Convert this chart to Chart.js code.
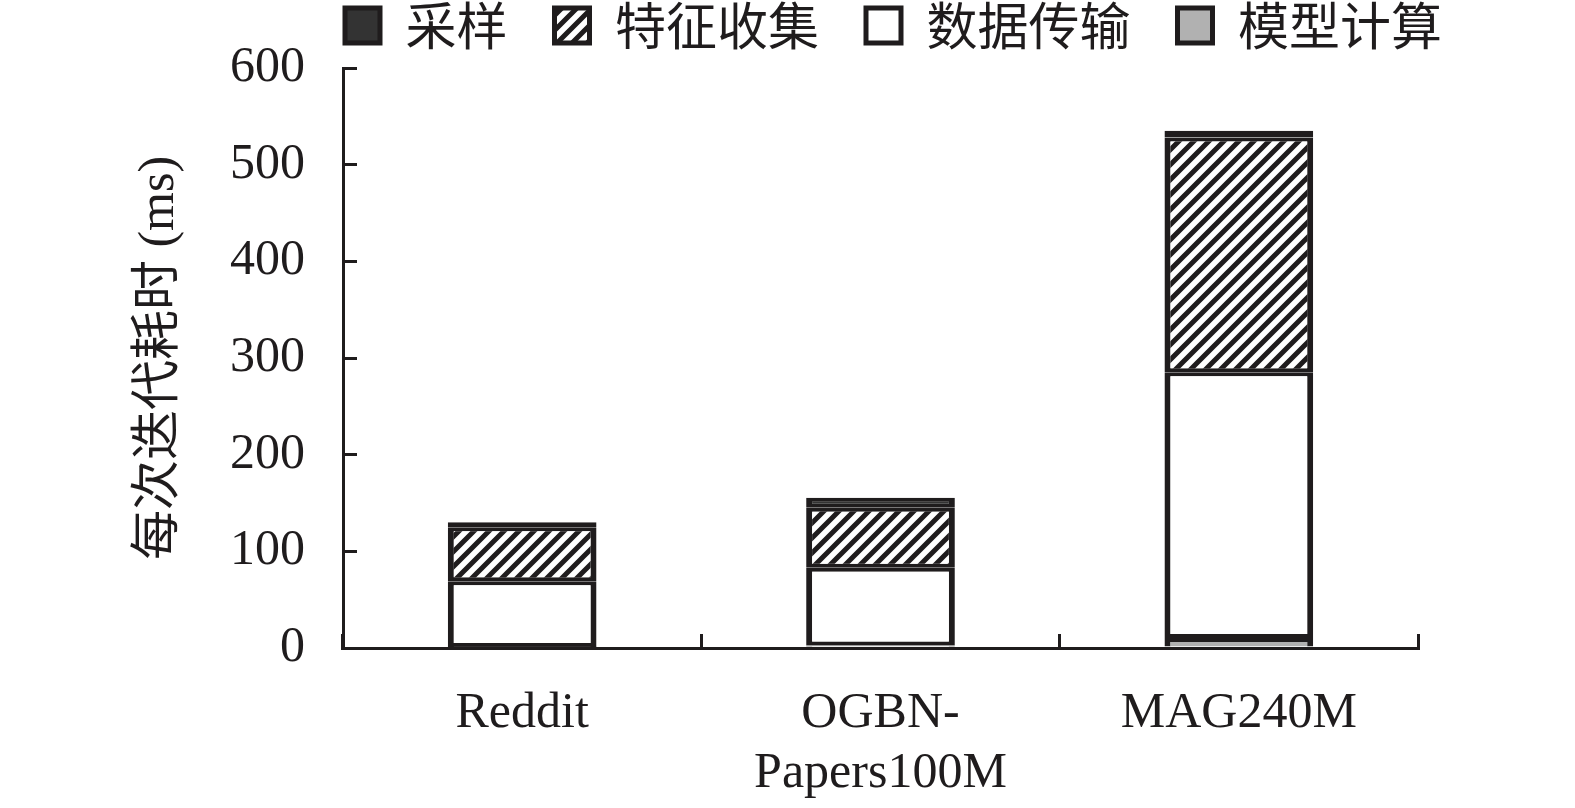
<!DOCTYPE html>
<html>
<head>
<meta charset="utf-8">
<script src="https://cdn.jsdelivr.net/npm/chart.js@4"></script>
<style>
  html, body { margin: 0; padding: 0; background: #ffffff; overflow: hidden; }
  #wrap { width: 1575px; height: 808px; position: relative; }
</style>
</head>
<body>
<div id="wrap"><canvas id="c"></canvas></div>
<script>
// ---- data ----
const categories = ['Reddit', ['OGBN-', 'Papers100M'], 'MAG240M'];
const seriesNames = ['模型计算', '数据传输', '特征收集', '采样'];
const modelCompute = [1, 2.5, 10.3];
const dataTransfer = [68, 80.5, 275];
const featureGather = [56, 62, 242.7];
const sampling = [5, 10.5, 7.2];
const yTicks = [0, 100, 200, 300, 400, 500, 600];
const yTitle = '每次迭代耗时 (ms)';

// ---- styles ----
const INK = '#1f1c1d';
const SERIF = "'Liberation Serif', 'Noto Sans CJK SC', serif";
const CJK = "'Noto Sans CJK SC', 'Liberation Serif', sans-serif";

function makeHatch() {
  const s = 15;
  const c = document.createElement('canvas');
  c.width = s; c.height = s;
  const g = c.getContext('2d');
  g.fillStyle = '#ffffff';
  g.fillRect(0, 0, s, s);
  g.strokeStyle = INK;
  g.lineWidth = 5;
  g.lineCap = 'square';
  g.beginPath();
  g.moveTo(-2, s + 2); g.lineTo(s + 2, -2);
  g.moveTo(-2, 2); g.lineTo(2, -2);
  g.moveTo(s - 2, s + 2); g.lineTo(s + 2, s - 2);
  g.stroke();
  return g.createPattern(c, 'repeat');
}
const hatch = makeHatch();

const bw = { top: 4, bottom: 4, left: 6, right: 6 };
function ds(label, data, bg, skip) {
  return {
    label, data,
    backgroundColor: bg,
    borderColor: INK,
    borderWidth: bw,
    borderSkipped: skip,
    barPercentage: 0.415,
    categoryPercentage: 1.0
  };
}

// moves the legend row to its place above the plot (legend box keeps its clip height)
const legendShift = {
  id: 'legendShift',
  afterLayout(chart) {
    const lg = chart.legend;
    if (!lg) return;
    const pad = lg.options.labels.padding;
    const dx = 345 - (lg.left + pad);
    const dy = 0 - (lg.top + pad);
    lg.left += dx; lg.right += dx;
    lg.top += dy;
  }
};

new Chart(document.getElementById('c'), {
  type: 'bar',
  data: {
    labels: categories,
    datasets: [
      ds(seriesNames[0], modelCompute, '#b1b1b1', 'start'),
      ds(seriesNames[1], dataTransfer, '#ffffff', false),
      ds(seriesNames[2], featureGather, hatch, false),
      ds(seriesNames[3], sampling, '#333333', false)
    ]
  },
  plugins: [legendShift],
  options: {
    responsive: true,
    maintainAspectRatio: false,
    animation: false,
    events: [],
    layout: { padding: { left: 100, right: 157, top: 0, bottom: 0 } },
    plugins: {
      tooltip: { enabled: false },
      legend: {
        display: true,
        position: 'top',
        align: 'start',
        reverse: true,
        maxHeight: 68,
        labels: {
          boxWidth: 35,
          boxHeight: 35,
          padding: 47,
          color: INK,
          font: { family: CJK, size: 51 }
        }
      }
    },
    scales: {
      x: {
        stacked: true,
        offset: true,
        afterFit(scale) { scale.height = 160; },
        grid: {
          offset: true,
          drawOnChartArea: false,
          drawTicks: true,
          tickLength: -14,
          color: INK,
          lineWidth: 3
        },
        border: { display: true, color: INK, width: 3 },
        ticks: {
          color: INK,
          padding: 50,
          maxRotation: 0,
          autoSkip: false,
          font: { family: SERIF, size: 50, lineHeight: 1.2 }
        }
      },
      y: {
        stacked: true,
        min: yTicks[0],
        max: yTicks[yTicks.length - 1],
        afterFit(scale) {
          scale.width = 243;
          scale.paddingTop = 30;
          scale.paddingBottom = 30;
        },
        afterBuildTicks(scale) { scale.ticks = yTicks.map(v => ({ value: v })); },
        grid: {
          drawOnChartArea: false,
          drawTicks: true,
          tickLength: -14,
          color: INK,
          lineWidth: 3
        },
        border: { display: true, color: INK, width: 3 },
        ticks: {
          color: INK,
          padding: 52,
          font: { family: SERIF, size: 50 }
        },
        title: {
          display: true,
          text: yTitle,
          color: INK,
          padding: { top: 30, bottom: 0 },
          font: { family: SERIF, size: 50, lineHeight: 1.2 }
        }
      }
    }
  }
});
</script>
</body>
</html>
